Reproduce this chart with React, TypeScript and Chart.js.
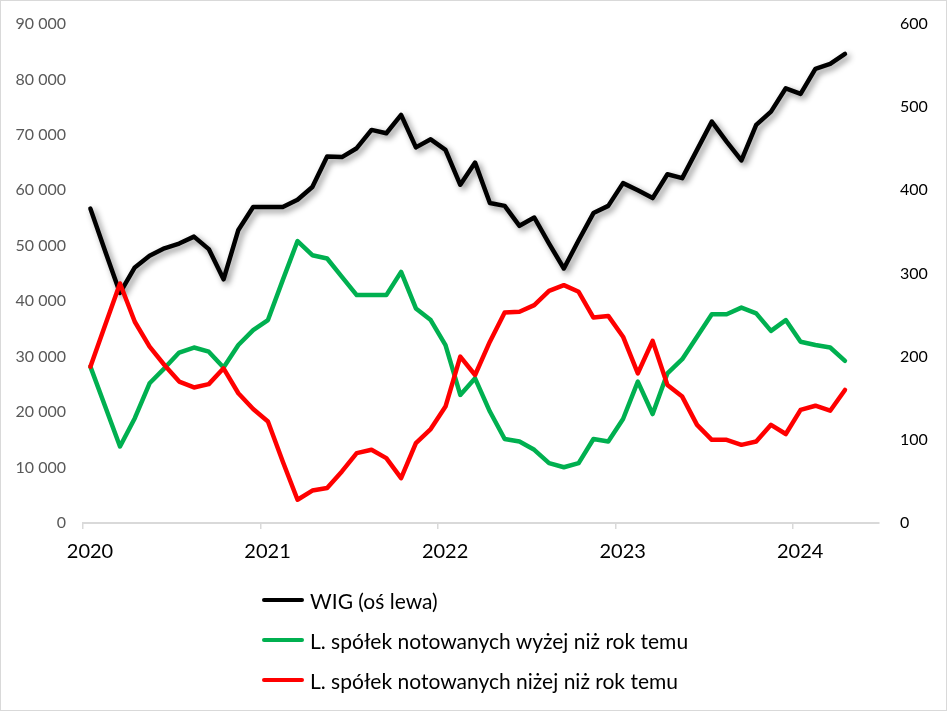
import React, { useEffect, useRef } from "react";
import { Chart, registerables } from "chart.js";

Chart.register(...registerables);

const FONT = "Lato, 'Open Sans', sans-serif";

// Monthly observations Jan 2020 .. Apr 2024
const yearLabels = ["2020", "2021", "2022", "2023", "2024"];
const firstYear = 2020;
const monthCount = 52;

const wig = [
  56700, 49000, 41500, 46100, 48200, 49550, 50400, 51650, 49400, 43950, 52850, 57000,
  57000, 57000, 58300, 60600, 66100, 66000, 67600, 70900, 70300, 73600, 67750, 69200,
  67300, 61000, 65000, 57700, 57200, 53600, 55100, 50400, 45900, 51000, 55900, 57200,
  61300, 60000, 58600, 62900, 62200, 67300, 72400, 68800, 65400, 71800, 74200, 78400,
  77400, 81900, 82800, 84600,
];

const higher = [
  188, 140, 92, 126, 168, 186, 205, 211, 206, 187, 214, 232,
  244, 292, 339, 322, 318, 296, 274, 274, 274, 302, 258, 244,
  214, 154, 174, 134, 101, 98, 88, 72, 67, 72, 101, 98,
  125, 170, 131, 180, 197, 224, 251, 251, 259, 252, 231, 244,
  218, 214, 211, 195,
];

const lower = [
  188, 238, 288, 242, 212, 190, 170, 163, 167, 186, 156, 137,
  122, 74, 28, 39, 42, 62, 84, 88, 78, 54, 96, 113,
  140, 200, 178, 218, 253, 254, 262, 279, 286, 278, 247, 249,
  224, 180, 219, 166, 152, 118, 100, 100, 94, 98, 118, 107,
  136, 141, 135, 160,
];

const seriesNames = [
  "WIG (oś lewa)",
  "L. spółek notowanych wyżej niż rok temu",
  "L. spółek notowanych niżej niż rok temu",
];
const seriesColors = ["#000000", "#00B050", "#FF0000"];

const toPoints = (vals: number[]) =>
  vals.slice(0, monthCount).map((v, i) => ({ x: i + 0.5, y: v }));

const fmtThousands = (v: number) =>
  String(Math.round(v)).replace(/\B(?=(\d{3})+(?!\d))/g, " ");

const shadowPlugin = {
  id: "lineShadow",
  beforeDatasetDraw(chart: any, args: any) {
    if (args.index === 0) {
      const ctx = chart.ctx;
      ctx.save();
      ctx.shadowColor = "rgba(0,0,0,0.45)";
      ctx.shadowBlur = 6;
      ctx.shadowOffsetX = 3;
      ctx.shadowOffsetY = 3;
    }
  },
  afterDatasetDraw(chart: any, args: any) {
    if (args.index === 0) chart.ctx.restore();
  },
};

export default function App() {
  const ref = useRef<HTMLCanvasElement | null>(null);

  useEffect(() => {
    document.body.style.margin = "0";
    if (!ref.current) return;
    const common = {
      borderWidth: 4.5,
      pointRadius: 0,
      tension: 0,
      borderJoinStyle: "round",
      borderCapStyle: "round",
    };
    const chart = new Chart(ref.current, {
      type: "line",
      data: {
        datasets: [
          {
            ...common,
            label: seriesNames[0],
            data: toPoints(wig),
            borderColor: seriesColors[0],
            backgroundColor: seriesColors[0],
            yAxisID: "yL",
            order: 3,
          },
          {
            ...common,
            label: seriesNames[1],
            data: toPoints(higher),
            borderColor: seriesColors[1],
            backgroundColor: seriesColors[1],
            yAxisID: "yR",
            order: 2,
          },
          {
            ...common,
            label: seriesNames[2],
            data: toPoints(lower),
            borderColor: seriesColors[2],
            backgroundColor: seriesColors[2],
            yAxisID: "yR",
            order: 1,
          },
        ],
      },
      options: {
        responsive: false,
        animation: false,
        devicePixelRatio: 1,
        layout: { padding: { top: 24, left: 0, right: 0, bottom: 0 } },
        plugins: {
          legend: { display: false },
          tooltip: { enabled: false },
        },
        scales: {
          x: {
            type: "linear",
            min: 0,
            max: 53.8,
            afterBuildTicks(scale: any) {
              scale.ticks = yearLabels.map((_, k) => ({ value: k * 12 }));
            },
            afterFit(scale: any) {
              scale.height = 188;
              scale.paddingLeft = 0;
              scale.paddingRight = 0;
            },
            ticks: {
              callback: (v: any) => String(firstYear + Math.round(Number(v) / 12)),
              color: "#000000",
              font: { family: FONT, size: 20 },
              padding: 11,
              maxRotation: 0,
              autoSkip: false,
              labelOffset: 7,
            },
            grid: {
              display: true,
              drawOnChartArea: false,
              drawTicks: true,
              tickLength: 6,
              color: "#d9d9d9",
              lineWidth: 1.5,
            },
            border: { display: true, color: "#d9d9d9", width: 2 },
          },
          yL: {
            type: "linear",
            position: "left",
            min: 0,
            max: 90000,
            afterFit(scale: any) {
              scale.width = 83;
              scale.paddingTop = 0;
              scale.paddingBottom = 0;
            },
            ticks: {
              stepSize: 10000,
              callback: (v: any) => fmtThousands(Number(v)),
              color: "#595959",
              font: { family: FONT, size: 16 },
              padding: 17,
            },
            grid: { display: false, drawTicks: false },
            border: { display: false },
          },
          yR: {
            type: "linear",
            position: "right",
            min: 0,
            max: 600,
            afterFit(scale: any) {
              scale.width = 68;
              scale.paddingTop = 0;
              scale.paddingBottom = 0;
            },
            ticks: {
              stepSize: 100,
              color: "#000000",
              font: { family: FONT, size: 16 },
              padding: 21,
            },
            grid: { display: false, drawTicks: false },
            border: { display: false },
          },
        },
      },
      plugins: [shadowPlugin],
    } as any);
    return () => chart.destroy();
  }, []);

  return (
    <div style={{ position: "relative", width: 947, height: 711, background: "#fff", overflow: "hidden" }}>
      <canvas ref={ref} width={947} height={711} style={{ display: "block" }} />
      <div style={{ position: "absolute", left: 0, top: 0, width: 947, height: 711, border: "1px solid #d9d9d9", boxSizing: "border-box", pointerEvents: "none" }} />
      {seriesNames.map((name, k) => (
        <div
          key={name}
          style={{
            position: "absolute",
            left: 262,
            top: 600 + k * 40 - 15,
            height: 30,
            display: "flex",
            alignItems: "center",
            fontFamily: FONT,
            fontSize: 21,
            color: "#000",
            whiteSpace: "nowrap",
          }}
        >
          <span style={{ display: "inline-block", width: 42, height: 4.5, borderRadius: 2.25, background: seriesColors[k], marginRight: 6 }} />
          <span>{name}</span>
        </div>
      ))}
    </div>
  );
}
